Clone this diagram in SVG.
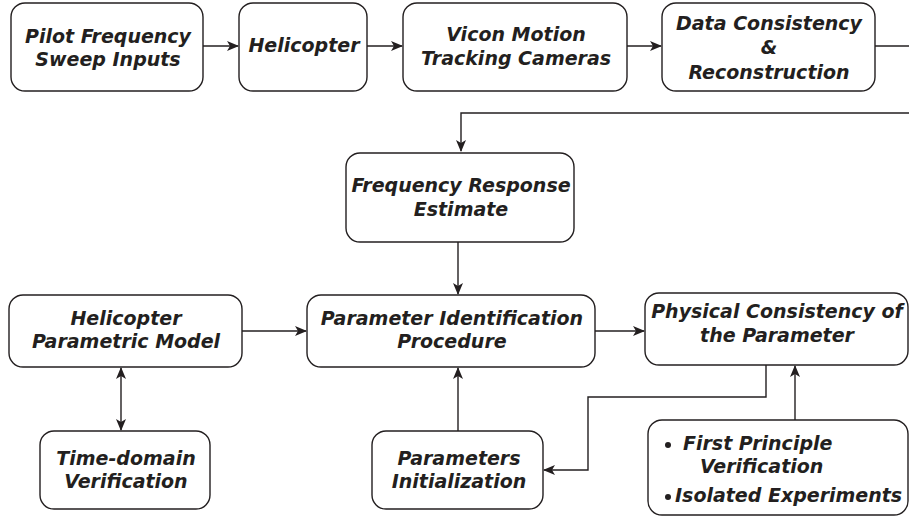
<svg xmlns="http://www.w3.org/2000/svg" width="909" height="527" viewBox="0 0 909 527">
<defs>
<marker id="ah" viewBox="0 0 12 10" refX="11" refY="5" markerWidth="12" markerHeight="10" markerUnits="userSpaceOnUse" orient="auto-start-reverse">
<path d="M0,0 L12,5 L0,10 L3,5 Z" fill="#231f20"/>
</marker>
</defs>
<style>
.box{fill:#fff;stroke:#231f20;stroke-width:1.4}
.t{font-family:"DejaVu Sans","Open Sans",sans-serif;font-weight:bold;font-style:italic;font-size:19px;fill:#231f20;text-anchor:middle}
.l{text-anchor:start}
.c{fill:none;stroke:#231f20;stroke-width:1.4}
</style>
<rect width="909" height="527" fill="#fff"/>
<g id="connectors">
<path class="c" d="M203,46 H238" marker-end="url(#ah)"/>
<path class="c" d="M367,46 H402" marker-end="url(#ah)"/>
<path class="c" d="M627,46 H661" marker-end="url(#ah)"/>
<path class="c" d="M875,46 H909"/>
<path class="c" d="M909,113 H461 V151" marker-end="url(#ah)"/>
<path class="c" d="M458,242 V294" marker-end="url(#ah)"/>
<path class="c" d="M242,331 H306" marker-end="url(#ah)"/>
<path class="c" d="M595,331 H644" marker-end="url(#ah)"/>
<path class="c" d="M121,368 V430" marker-start="url(#ah)" marker-end="url(#ah)"/>
<path class="c" d="M458,431 V368" marker-end="url(#ah)"/>
<path class="c" d="M766,365 V397 H588 V470 H544" marker-end="url(#ah)"/>
<path class="c" d="M795,420 V366" marker-end="url(#ah)"/>
</g>
<g id="pilot">
<rect class="box" x="11" y="3" width="192" height="88" rx="14"/>
<text class="t" x="108" y="43">Pilot Frequency</text>
<text class="t" x="108" y="66">Sweep Inputs</text>
</g>
<g id="helicopter">
<rect class="box" x="239" y="3" width="128" height="88" rx="14"/>
<text class="t" x="304" y="52">Helicopter</text>
</g>
<g id="vicon">
<rect class="box" x="403" y="3" width="224" height="88" rx="14"/>
<text class="t" x="516" y="41">Vicon Motion</text>
<text class="t" x="516" y="65">Tracking Cameras</text>
</g>
<g id="data">
<rect class="box" x="662" y="3" width="213" height="88" rx="14"/>
<text class="t" x="769" y="30">Data Consistency</text>
<text class="t" x="769" y="54">&amp;</text>
<text class="t" x="769" y="79">Reconstruction</text>
</g>
<g id="fre">
<rect class="box" x="346" y="153" width="228" height="89" rx="14"/>
<text class="t" x="461" y="192">Frequency Response</text>
<text class="t" x="461" y="216">Estimate</text>
</g>
<g id="hpm">
<rect class="box" x="9" y="295" width="233" height="72" rx="14"/>
<text class="t" x="126" y="325">Helicopter</text>
<text class="t" x="126" y="348">Parametric Model</text>
</g>
<g id="pip">
<rect class="box" x="307" y="295" width="288" height="72" rx="14"/>
<text class="t" x="452" y="325">Parameter Identification</text>
<text class="t" x="452" y="348">Procedure</text>
</g>
<g id="pcp">
<rect class="box" x="645" y="293" width="263" height="72" rx="14"/>
<text class="t" x="777" y="318">Physical Consistency of</text>
<text class="t" x="777" y="342">the Parameter</text>
</g>
<g id="tdv">
<rect class="box" x="40" y="431" width="170" height="78" rx="14"/>
<text class="t" x="126" y="465">Time-domain</text>
<text class="t" x="126" y="488">Verification</text>
</g>
<g id="pin">
<rect class="box" x="372" y="431" width="171" height="78" rx="14"/>
<text class="t" x="459" y="465">Parameters</text>
<text class="t" x="459" y="488">Initialization</text>
</g>
<g id="fpv">
<rect class="box" x="648" y="420" width="260" height="95" rx="14"/>
<circle cx="668" cy="445" r="3" fill="#231f20"/>
<text class="t l" x="683" y="450">First Principle</text>
<text class="t l" x="700" y="473">Verification</text>
<circle cx="668" cy="497" r="3" fill="#231f20"/>
<text class="t l" x="675" y="502">Isolated Experiments</text>
</g>
</svg>
